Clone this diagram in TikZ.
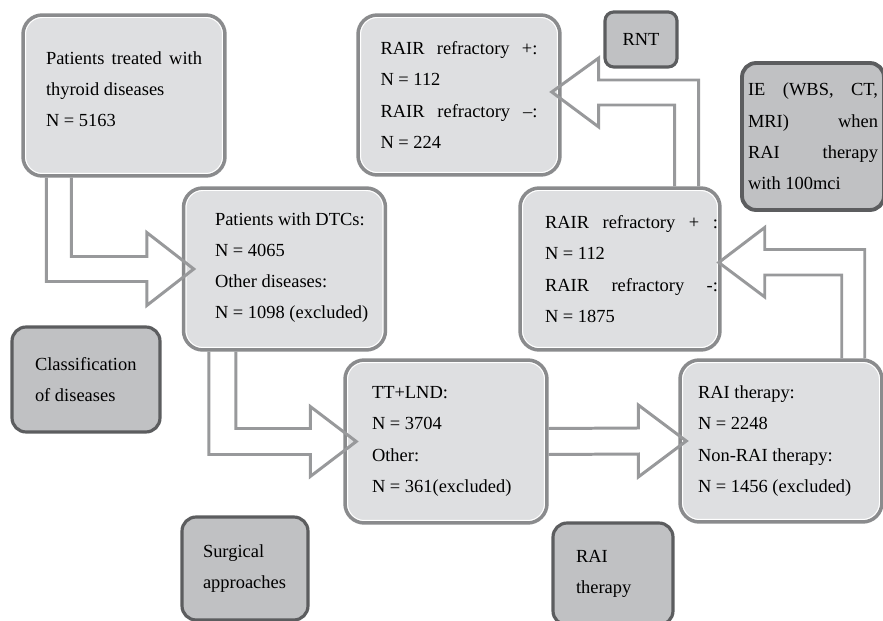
\documentclass[tikz,border=0pt]{standalone}
\usepackage{fontspec}
\setmainfont{Liberation Serif}
\usepackage{xcolor}
\usepackage{tikz}
\usetikzlibrary{calc}

\definecolor{boxfill}{RGB}{222,223,225}
\definecolor{boxline}{RGB}{138,139,141}
\definecolor{tagfill}{RGB}{192,193,195}
\definecolor{tagline}{RGB}{92,93,95}
\definecolor{arrowline}{RGB}{152,153,155}

\newcommand{\spreadline}[2][\linewidth]{\makebox[#1][s]{#2}}

\begin{document}
\begin{tikzpicture}[
    x=0.02cm, y=-0.02cm,
    every node/.style={font={\fontsize{10.5pt}{17.8pt}\selectfont}, execute at begin node={\spaceskip=0pt\xspaceskip=0pt}},
    stage/.style={rectangle, draw=boxline, fill=boxfill, line width=2pt, rounded corners=11pt, inner xsep=0pt, inner ysep=4pt, minimum width=4.04cm, minimum height=3.24cm, align=left, postaction={draw=white, line width=3.4pt}, postaction={draw=boxline, line width=2pt}},
    tag/.style={rectangle, draw=tagline, fill=tagfill, line width=1.8pt, rounded corners=8pt, inner xsep=0pt, align=left},
    flowarrow/.style={draw=arrowline, line width=1.7pt, line join=miter},
]

\useasboundingbox (0,0) rectangle (883,621);

\node[stage, minimum height=3.22cm, text width=3.12cm] (top) at (124,95.5) {\spreadline{Patients treated with}\\ thyroid diseases\\ N = 5163\\[-10.3pt] \mbox{}};
\node[stage, text width=2.78cm] (dtc) at (284.5,269) {\mbox{Patients with DTCs:}\\ N = 4065\\ Other diseases:\\ \mbox{N = 1098 (excluded)}\\[-14pt] \mbox{}};
\node[stage, minimum height=3.2cm, text width=3.14cm] (rairtop) at (459,95) {\spreadline{RAIR refractory +:}\\ N = 112\\ \spreadline{RAIR refractory \textendash:}\\ N = 224};
\node[stage, minimum width=4cm, text width=3cm] (rairmid) at (620,269) {\spreadline[3.46cm]{RAIR refractory + :}\\ N = 112\\ \spreadline[3.46cm]{RAIR refractory -:}\\ N = 1875};
\node[stage, minimum height=3.26cm, text width=2.96cm] (tt) at (446,441.5) {TT+LND:\\ N = 3704\\ Other:\\ N = 361(excluded)};
\node[stage, text width=3.32cm] (rai) at (781,441) {RAI therapy:\\ N = 2248\\ Non-RAI therapy:\\ N = 1456 (excluded)};

\node[tag, minimum width=1.44cm, minimum height=1.1cm, rounded corners=5pt, align=center] (rnt) at (641,39.5) {RNT};
\node[tag, line width=2.2pt, minimum width=2.84cm, minimum height=2.94cm, text width=2.6cm] (ie) at (813,136.5) {\spreadline{IE (WBS, CT,}\\ \spreadline{MRI) when}\\ \spreadline{RAI therapy}\\ with 100mci};
\node[tag, minimum width=2.96cm, minimum height=2.1cm, text width=2.04cm] (classify) at (86,379.5) {Classification\\ of diseases};
\node[tag, minimum width=2.52cm, minimum height=2.06cm, text width=1.68cm] (surgery) at (245,568.5) {Surgical\\ approaches};
\node[tag, minimum width=2.4cm, minimum height=2.04cm, text width=1.48cm] (raitag) at (613,574) {RAI\\ therapy};

\draw[flowarrow] ($(top.south west)+(50,0)$) |- ($(dtc.west)+(-35,-12.5)$) -- ++(0,-24) -- ($(dtc.west)+(12,0)$) -- ++(-47,36.5) -- ++(0,-24) -| ($(top.south west)+(25,0)$);
\draw[flowarrow] ($(dtc.south west)+(54,0)$) |- ($(tt.west)+(-33,-13)$) -- ++(0,-22) -- ($(tt.west)+(13,0)$) -- ++(-46,35) -- ++(0,-22) -| ($(dtc.south west)+(27,0)$);
\draw[flowarrow] ($(tt.east)+(0,-13)$) -- ($(rai.west)+(-40,-13)$) -- ++(0,-23) -- ($(rai.west)+(8,0)$) -- ++(-48,36) -- ++(0,-23) -- ($(tt.east)+(0,13)$);
\draw[flowarrow] ($(rai.north east)+(-42,0)$) |- ($(rairmid.east)+(43,6)$) -- ++(0,22) -- ($(rairmid.east)+(-3,-6.5)$) -- ++(46,-35) -- ++(0,22) -| ($(rai.north east)+(-19,0)$);
\draw[flowarrow] ($(rairmid.north east)+(-47,0)$) |- ($(rairtop.east)+(37,10)$) -- ++(0,22) -- ($(rairtop.east)+(-10,-3)$) -- ++(47,-34) -- ++(0,22) -| ($(rairmid.north east)+(-23,0)$);

\end{tikzpicture}
\end{document}
